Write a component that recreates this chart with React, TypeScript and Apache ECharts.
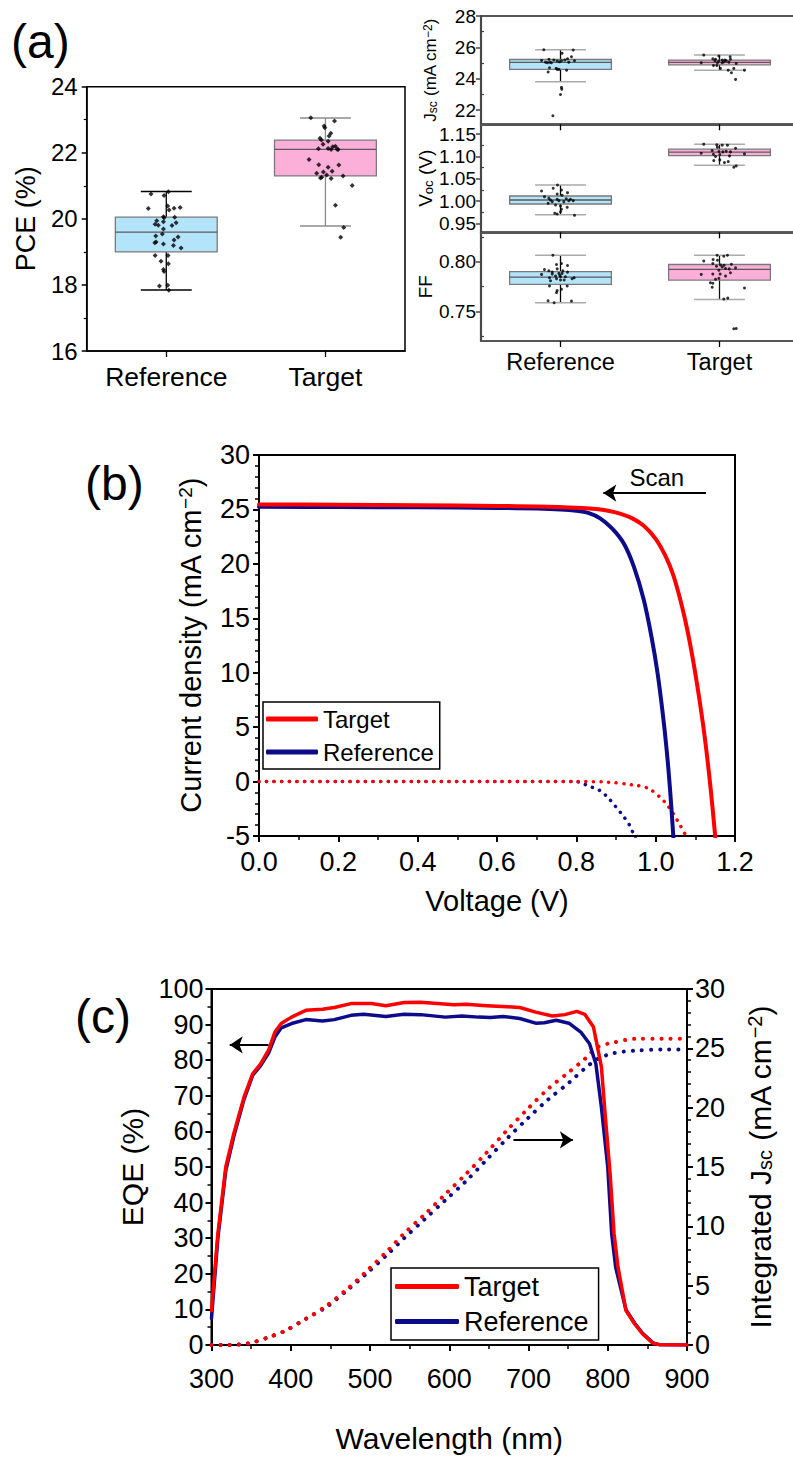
import React, { useEffect, useRef } from 'react';
import * as echarts from 'echarts';

const FONT = "'Liberation Sans', Arial, Helvetica, sans-serif";

// ---------- panel (a) ----------
const groups = ['Reference', 'Target'];
const groupCenters = [0.5, 1.5];

// box stats: [min, Q1, median, Q3, max]
const pceBox = [[17.85, 19.0, 19.6, 20.05, 20.83], [19.78, 21.3, 22.1, 22.38, 23.05]];
const jscBox = [[23.81, 24.6, 25.04, 25.23, 25.85], [24.55, 24.89, 25.04, 25.19, 25.51]];
const vocBox = [[0.9693, 0.9934, 1.0024, 1.0113, 1.036], [1.0803, 1.1019, 1.1095, 1.1163, 1.1275]];
const ffBox = [[0.7587, 0.7774, 0.7847, 0.7903, 0.8067], [0.762, 0.7817, 0.7924, 0.7974, 0.8067]];

const pceRefVals = [20.75, 20.71, 20.82, 20.31, 20.39, 20.27, 20.32, 20.34, 20.06, 20.03, 20.05, 19.94, 19.91, 19.88, 19.84, 19.81, 19.8, 19.69, 19.54, 19.48, 19.45, 19.36, 19.3, 19.28, 19.24, 19.19, 19.12, 18.89, 18.72, 18.89, 18.64, 18.47, 18.41, 17.97, 17.99, 17.84];
const pceRefJit = [-0.096, -0.014, 0.013, -0.113, 0.009, 0.018, 0.049, 0.087, -0.018, -0.014, 0.053, -0.06, -0.018, 0.062, -0.07, -0.05, 0.036, -0.018, -0.025, -0.066, 0.074, 0.049, -0.064, -0.072, -0.018, 0.045, 0.093, -0.07, -0.033, 0.011, 0.013, -0.018, -0.014, -0.043, 0.009, 0.016];
const pceTgtVals = [23.06, 22.96, 22.81, 22.76, 22.59, 22.51, 22.44, 22.39, 22.35, 22.26, 22.2, 22.18, 22.12, 22.13, 22.11, 22.1, 22.1, 21.8, 21.64, 21.63, 21.56, 21.44, 21.42, 21.38, 21.3, 21.26, 21.33, 21.24, 21.22, 21.01, 20.41, 19.74, 19.44];
const pceTgtJit = [-0.092, 0.057, -0.008, -0.004, 0.034, 0.023, -0.034, -0.025, 0.017, -0.015, 0.063, 0.046, -0.044, 0.017, 0.073, 0.036, 0.08, -0.103, -0.042, 0.084, 0.017, 0.042, -0.013, -0.055, 0.111, -0.023, 0.008, -0.031, 0.036, 0.168, 0.063, 0.115, 0.096];

const jscRefVals = [25.85, 25.83, 25.62, 25.4, 25.28, 25.17, 25.24, 25.19, 25.06, 25.13, 25.15, 25.06, 25.15, 25.02, 25.08, 24.7, 24.66, 24.6, 24.55, 24.43, 24.6, 23.45, 23.34, 23.0, 21.64, 25.02, 25.19, 25.06];
const jscRefJit = [-0.105, 0.08, 0.01, 0.069, 0.044, -0.119, -0.073, -0.042, -0.067, -0.021, 0.006, 0.052, 0.088, -0.057, -0.006, -0.069, -0.027, -0.01, 0.038, -0.078, -0.021, 0.006, 0.008, 0.0, -0.048, -0.082, 0.027, -0.094];
const jscTgtVals = [25.51, 25.45, 25.4, 25.28, 25.24, 25.19, 25.15, 25.24, 25.13, 25.08, 25.06, 25.02, 24.98, 24.85, 24.85, 24.66, 24.55, 24.66, 24.55, 24.38, 23.96, 25.02, 25.19, 25.02, 25.15];
const jscTgtJit = [-0.099, -0.004, 0.067, -0.042, -0.025, 0.017, 0.042, 0.069, -0.004, 0.027, 0.059, -0.115, 0.105, -0.038, -0.017, 0.006, 0.055, 0.09, 0.157, 0.075, 0.101, 0.017, 0.034, -0.013, -0.029];

const vocRefVals = [1.0226, 1.0286, 1.036, 1.0188, 1.0248, 1.0158, 1.0129, 1.0062, 1.0024, 1.0039, 1.0009, 1.0053, 1.0039, 1.0009, 1.0099, 0.9949, 0.9911, 0.9889, 0.9859, 0.9815, 0.9761, 0.9725, 0.9709, 0.968, 1.0009, 0.9987, 0.9987];
const vocRefJit = [-0.119, -0.046, -0.019, 0.044, 0.006, -0.021, 0.01, -0.073, -0.063, -0.021, -0.01, 0.036, 0.063, 0.08, -0.101, -0.078, -0.031, 0, 0.042, 0.006, 0, -0.036, -0.021, 0.088, 0.052, -0.052, 0.021];
const vocTgtVals = [1.1275, 1.126, 1.1253, 1.1253, 1.1208, 1.1185, 1.1132, 1.1109, 1.1102, 1.1117, 1.1102, 1.1073, 1.1057, 1.105, 1.1042, 1.1012, 1.0907, 1.0922, 1.0862, 1.0884, 1.0758, 1.0788, 1.0997];
const vocTgtJit = [-0.099, -0.017, 0.017, 0.05, -0.013, 0.101, -0.046, -0.004, 0.021, 0.042, 0.069, -0.115, 0.157, -0.038, 0.002, 0.063, -0.036, 0.002, 0.031, 0.055, 0.09, 0.105, -0.025];

const ffRefVals = [0.8067, 0.7984, 0.7974, 0.7964, 0.793, 0.7924, 0.791, 0.791, 0.7897, 0.7874, 0.7877, 0.7884, 0.7884, 0.7857, 0.785, 0.785, 0.784, 0.783, 0.784, 0.783, 0.7817, 0.781, 0.7757, 0.7757, 0.7724, 0.771, 0.769, 0.7607, 0.7587, 0.7604, 0.7897, 0.7864, 0.7817];
const ffRefJit = [-0.048, 0.006, -0.025, 0.044, -0.021, -0.101, -0.073, 0.015, 0.044, -0.119, -0.052, -0.01, 0.01, -0.031, 0, 0.031, -0.069, -0.025, 0.086, 0.073, 0, -0.063, -0.069, 0.042, 0.006, -0.021, -0.025, -0.078, -0.04, 0.069, -0.052, -0.004, 0.023];
const ffTgtVals = [0.8067, 0.8057, 0.8067, 0.801, 0.8024, 0.8017, 0.7984, 0.797, 0.7967, 0.7977, 0.794, 0.7957, 0.795, 0.793, 0.789, 0.7874, 0.7877, 0.7877, 0.7857, 0.7824, 0.7834, 0.779, 0.7784, 0.7744, 0.7737, 0.7624, 0.7634, 0.7324, 0.7327, 0.7917, 0.7934];
const ffTgtJit = [-0.015, 0.027, 0.05, -0.099, -0.04, -0.013, -0.042, 0.006, 0.029, 0.075, 0.101, -0.019, 0.017, 0.061, 0.069, -0.115, -0.042, 0.004, 0.038, -0.025, -0.004, -0.057, -0.042, -0.046, 0.157, 0.027, 0.052, 0.09, 0.105, -0.004, 0.038];

const jscLabels = [22, 24, 26, 28];
const jscMinor = [23, 25, 27];
const vocLabels = [0.95, 1.0, 1.05, 1.1, 1.15];
const vocMinor = [0.975, 1.025, 1.075, 1.125];
const ffLabels = [0.75, 0.8];
const ffMinor = [0.725, 0.775, 0.825];

// ---------- panel (b) J-V ----------
const jvTgtV = [0, 0.2, 0.4, 0.6, 0.7, 0.8, 0.85, 0.88, 0.91, 0.94, 0.97, 1.0, 1.025, 1.045, 1.065, 1.08, 1.095, 1.108, 1.12, 1.13, 1.139, 1.147, 1.155];
const jvTgtJ = [25.46, 25.43, 25.38, 25.32, 25.27, 25.16, 25.03, 24.88, 24.62, 24.2, 23.5, 22.3, 20.7, 18.9, 16.3, 13.9, 11.0, 8.1, 5.1, 2.2, -0.8, -3.8, -7];
const jvRefV = [0, 0.2, 0.4, 0.6, 0.7, 0.76, 0.8, 0.83, 0.86, 0.89, 0.92, 0.945, 0.97, 0.99, 1.005, 1.018, 1.028, 1.036, 1.043, 1.05];
const jvRefJ = [25.25, 25.22, 25.19, 25.14, 25.08, 25.0, 24.88, 24.68, 24.18, 23.25, 21.85, 19.75, 16.7, 13.2, 9.9, 6.2, 2.8, -0.6, -4.2, -8];
const darkTgtV = [0, 0.2, 0.4, 0.6, 0.8, 0.88, 0.94, 0.98, 1.01, 1.03, 1.045, 1.06, 1.075, 1.08];
const darkTgtJ = [0, 0, 0, 0, 0, -0.05, -0.3, -0.6, -1.4, -2.2, -3.0, -3.9, -4.9, -5.3];
const darkRefV = [0, 0.2, 0.4, 0.6, 0.8, 0.81, 0.838, 0.858, 0.878, 0.899, 0.919, 0.934, 0.944, 0.95];
const darkRefJ = [0, 0, 0, 0, 0, -0.1, -0.5, -0.8, -1.4, -2.3, -3.2, -4.0, -4.8, -5.3];
const scanArrow = [[1.127, 26.5], [0.868, 26.5]];
const scanText = [1.003, 27.9];

// ---------- panel (c) EQE ----------
const eqeTgtWl = [300, 308, 318, 328, 341, 352, 362, 372, 380, 388, 401, 419, 440, 455, 476, 502, 520, 543, 564, 585, 606, 621, 647, 673, 689, 709, 730, 746, 761, 771, 782, 792, 797, 803, 808, 813, 823, 834, 844, 857, 865, 900];
const eqeTgt = [9.7, 31.2, 50, 59.3, 69.6, 76.2, 79, 82.8, 87.9, 90.3, 92.1, 94.0, 94.3, 94.8, 95.9, 95.9, 95.3, 96.2, 96.3, 95.9, 95.6, 95.7, 95.3, 95.0, 94.8, 93.5, 92.4, 92.8, 93.7, 92.9, 89.3, 78.1, 64, 48, 31.2, 21.8, 9.7, 5.9, 3.1, 0.5, 0.1, 0];
const eqeRefWl = [300, 308, 318, 328, 341, 352, 362, 372, 380, 388, 401, 419, 440, 455, 476, 492, 520, 543, 564, 595, 616, 637, 652, 668, 689, 709, 720, 735, 751, 766, 777, 785, 792, 800, 805, 810, 823, 834, 844, 857, 865, 900];
const eqeRef = [7.5, 30, 49, 58.5, 69, 75.8, 78.5, 82, 86.5, 89.1, 90.3, 91.4, 91.0, 91.4, 92.6, 92.9, 92.3, 92.9, 92.8, 92.1, 92.4, 92.1, 92.0, 92.3, 91.7, 90.4, 90.5, 91.2, 90.4, 87.9, 84.6, 79, 66.8, 50, 31.2, 21.8, 9.9, 6.1, 3.3, 0.6, 0.1, 0];
const intWl = [300, 321, 347, 372, 393, 419, 445, 471, 497, 523, 543, 569, 595, 621, 647, 673, 699, 725, 751, 771, 787, 808, 834, 870, 900];
const intTgt = [0, 0, 0.14, 0.65, 1.2, 2.2, 3.3, 4.7, 6.3, 8.0, 9.4, 11.0, 12.7, 14.4, 16.2, 18.1, 19.9, 21.6, 23.0, 24.1, 25.1, 25.5, 25.8, 25.8, 25.8];
const intRef = [0, 0, 0.14, 0.65, 1.2, 2.2, 3.2, 4.6, 6.1, 7.7, 9.0, 10.6, 12.2, 13.8, 15.6, 17.4, 19.1, 20.7, 22.1, 23.3, 24.1, 24.6, 24.8, 24.9, 24.9];
const eqeLeftArrow = [[372, 84.3], [323, 84.3]];
const eqeRightArrow = [[681, 57.6], [756, 57.6]];

// ---------- styles ----------
const RED = '#ff0000';
const NAVY = '#0c0c8a';
const boxFills = ['#b3e4fa', '#fcb0d9'];
const BOX_HALF = 0.32;
const CAP_HALF = 0.16;

const zip = (xs: number[], ys: number[]) => xs.map((x, i) => [x, ys[i]]);
const jitter = (c: number, offs: number[], vals: number[]) => vals.map((v, i) => [c + offs[i], v]);
const boxData = (stats: number[][]) => stats.map((s, i) => [groupCenters[i], ...s]);

function boxRender(stems: string[], caps: string[]) {
  return (params: any, api: any) => {
    const i = params.dataIndex;
    const xc = api.value(0);
    const lo = api.value(1), q1 = api.value(2), med = api.value(3), q3 = api.value(4), hi = api.value(5);
    const tl = api.coord([xc - BOX_HALF, q3]);
    const br = api.coord([xc + BOX_HALF, q1]);
    const mL = api.coord([xc - BOX_HALF, med]);
    const mR = api.coord([xc + BOX_HALF, med]);
    const top = api.coord([xc, hi]);
    const bot = api.coord([xc, lo]);
    const hL = api.coord([xc - CAP_HALF, hi]);
    const hR = api.coord([xc + CAP_HALF, hi]);
    const lL = api.coord([xc - CAP_HALF, lo]);
    const lR = api.coord([xc + CAP_HALF, lo]);
    return {
      type: 'group',
      children: [
        { type: 'line', shape: { x1: top[0], y1: top[1], x2: top[0], y2: bot[1] }, style: { stroke: stems[i], lineWidth: 1.3 } },
        { type: 'line', shape: { x1: hL[0], y1: hL[1], x2: hR[0], y2: hR[1] }, style: { stroke: caps[i], lineWidth: 1.5 } },
        { type: 'line', shape: { x1: lL[0], y1: lL[1], x2: lR[0], y2: lR[1] }, style: { stroke: caps[i], lineWidth: 1.5 } },
        { type: 'rect', shape: { x: tl[0], y: tl[1], width: br[0] - tl[0], height: br[1] - tl[1] }, style: { fill: boxFills[i], stroke: '#7a7a7a', lineWidth: 1.3 } },
        { type: 'line', shape: { x1: mL[0], y1: mL[1], x2: mR[0], y2: mR[1] }, style: { stroke: '#5a5a5a', lineWidth: 1.3 } },
      ],
    };
  };
}

const catFmt = (v: number) => groups[Math.round(v - 0.5)] || '';

function baseAxis(color: string, lw: number, fontSize: number) {
  return {
    axisLine: { show: true, onZero: false, lineStyle: { color, width: lw } },
    axisTick: { show: true, inside: false, length: 5, lineStyle: { color, width: lw } },
    splitLine: { show: false },
    axisLabel: { color: '#000', fontFamily: FONT, fontSize, margin: 8 },
    nameTextStyle: { color: '#000', fontFamily: FONT },
  };
}

const panelLabels = (extra: any[]) => [
  { id: 'la', type: 'text', left: 11, top: 17, style: { text: '(a)', fontSize: 48, fontFamily: FONT, fill: '#000' } },
  { id: 'lb', type: 'text', left: 85, top: 459, style: { text: '(b)', fontSize: 48, fontFamily: FONT, fill: '#000' } },
  { id: 'lc', type: 'text', left: 75, top: 992, style: { text: '(c)', fontSize: 48, fontFamily: FONT, fill: '#000' } },
  ...extra,
];

function buildOption() {
  const leftStems = ['#000', '#8c8c8c'];
  const rightStems = ['#000', '#111'];
  const rightCaps = ['#aaaaaa', '#aaaaaa'];
  const gridBase = { show: true, backgroundColor: 'transparent', outerBoundsMode: 'none', containLabel: false };

  const grid = [
    { ...gridBase, left: 86.7, top: 86.7, width: 318.3, height: 264.3, borderColor: '#000', borderWidth: 1.5 },
    { ...gridBase, left: 481, top: 16, width: 318, height: 108.3, borderColor: '#555', borderWidth: 2.2 },
    { ...gridBase, left: 481, top: 124.3, width: 318, height: 108, borderColor: '#555', borderWidth: 2.2 },
    { ...gridBase, left: 481, top: 232.3, width: 318, height: 108.7, borderColor: '#555', borderWidth: 2.2 },
    { ...gridBase, left: 259, top: 455, width: 476, height: 381, borderColor: '#000', borderWidth: 2 },
    { ...gridBase, left: 211.5, top: 989, width: 475.5, height: 356, borderColor: '#000', borderWidth: 2 },
  ];

  const catX = (gi: number, showLabel: boolean, margin: number, color: string, lw: number, fontSize: number) => {
    const b = baseAxis(color, lw, fontSize);
    return {
      ...b, gridIndex: gi, type: 'value', min: 0, max: 2,
      axisTick: { ...b.axisTick, customValues: groupCenters, length: 6, lineStyle: { color: '#000', width: 1.3 } },
      axisLabel: { ...b.axisLabel, show: showLabel, customValues: groupCenters, formatter: catFmt, margin },
    };
  };

  const supRich = (big: number, small: number) => ({
    sup: { fontSize: small, verticalAlign: 'top', fontFamily: FONT, color: '#000' },
    sub: { fontSize: small, verticalAlign: 'bottom', fontFamily: FONT, color: '#000' },
    n: { fontSize: big, fontFamily: FONT, color: '#000' },
  });

  const rightY = (gi: number, min: number, max: number, labels: number[], name: string, nameSize: number, digits: number) => {
    const b = baseAxis('#444', 1.5, 19);
    return {
      ...b, gridIndex: gi, type: 'value', min, max,
      axisTick: { ...b.axisTick, customValues: labels, length: 5 },
      axisLabel: { ...b.axisLabel, customValues: labels, margin: 5, formatter: (v: number) => v.toFixed(digits) },
      name, nameLocation: 'middle', nameGap: 42, nameRotate: 90,
      nameTextStyle: { color: '#000', fontFamily: FONT, fontSize: nameSize, rich: supRich(nameSize, Math.round(nameSize * 0.7)) },
    };
  };
  const minorY = (gi: number, min: number, max: number, minors: number[]) => ({
    gridIndex: gi, type: 'value', min, max,
    axisLine: { show: false }, splitLine: { show: false }, axisLabel: { show: false },
    axisTick: { show: true, inside: false, length: 3, customValues: minors, lineStyle: { color: '#444', width: 1.2 } },
  });

  const bX = baseAxis('#000', 2, 27);
  const cX = baseAxis('#000', 2, 27);

  const xAxis = [
    catX(0, true, 12, '#000', 1.5, 26.5),
    catX(1, false, 8, '#555', 2.2, 23.5),
    catX(2, false, 8, '#555', 2.2, 23.5),
    catX(3, true, 9, '#555', 2.2, 23.5),
    {
      ...bX, gridIndex: 4, type: 'value', min: 0, max: 1.2, interval: 0.2,
      axisTick: { ...bX.axisTick, length: 6 },
      minorTick: { show: true, splitNumber: 2, length: 4, lineStyle: { color: '#000', width: 1.5 } },
      axisLabel: { ...bX.axisLabel, margin: 12, formatter: (v: number) => v.toFixed(1) },
      name: 'Voltage (V)', nameLocation: 'middle', nameGap: 50,
      nameTextStyle: { color: '#000', fontFamily: FONT, fontSize: 29 },
    },
    {
      ...cX, gridIndex: 5, type: 'value', min: 300, max: 900, interval: 100,
      axisTick: { ...cX.axisTick, length: 6 },
      minorTick: { show: true, splitNumber: 2, length: 4, lineStyle: { color: '#000', width: 1.5 } },
      axisLabel: { ...cX.axisLabel, margin: 20 },
      name: 'Wavelength (nm)', nameLocation: 'middle', nameGap: 78,
      nameTextStyle: { color: '#000', fontFamily: FONT, fontSize: 30 },
    },
  ];

  const aY = baseAxis('#000', 1.5, 24);
  const bY = baseAxis('#000', 2, 27);
  const cY = baseAxis('#000', 2, 27);

  const yAxis = [
    {
      ...aY, gridIndex: 0, type: 'value', min: 16, max: 24, interval: 2,
      minorTick: { show: true, splitNumber: 2, length: 3, lineStyle: { color: '#000', width: 1.2 } },
      axisLabel: { ...aY.axisLabel, margin: 9 },
      name: 'PCE (%)', nameLocation: 'middle', nameGap: 47, nameRotate: 90,
      nameTextStyle: { color: '#000', fontFamily: FONT, fontSize: 27 },
    },
    rightY(1, 21.1, 28, jscLabels, 'J{sub|sc}{n| (mA cm}{sup|\u22122}{n|)}', 17, 0),
    minorY(1, 21.1, 28, jscMinor),
    rightY(2, 0.93, 1.172, vocLabels, 'V{sub|oc}{n| (V)}', 19, 2),
    minorY(2, 0.93, 1.172, vocMinor),
    rightY(3, 0.72, 0.83, ffLabels, 'FF', 19, 2),
    minorY(3, 0.72, 0.83, ffMinor),
    {
      ...bY, gridIndex: 4, type: 'value', min: -5, max: 30, interval: 5,
      axisTick: { ...bY.axisTick, length: 6 },
      minorTick: { show: true, splitNumber: 5, length: 4, lineStyle: { color: '#000', width: 1.5 } },
      axisLabel: { ...bY.axisLabel, margin: 9 },
      name: '{n|Current density (mA cm}{sup|\u22122}{n|)}', nameLocation: 'middle', nameGap: 54, nameRotate: 90,
      nameTextStyle: { color: '#000', fontFamily: FONT, fontSize: 29, rich: supRich(29, 19) },
    },
    {
      ...cY, gridIndex: 5, type: 'value', min: 0, max: 100, interval: 10,
      axisTick: { ...cY.axisTick, length: 6 },
      minorTick: { show: true, splitNumber: 2, length: 4, lineStyle: { color: '#000', width: 1.5 } },
      axisLabel: { ...cY.axisLabel, margin: 8 },
      name: 'EQE (%)', nameLocation: 'middle', nameGap: 43, nameRotate: 90,
      nameTextStyle: { color: '#000', fontFamily: FONT, fontSize: 30 },
    },
    {
      ...cY, gridIndex: 5, type: 'value', min: 0, max: 30, interval: 5, position: 'right',
      axisTick: { ...cY.axisTick, length: 6 },
      minorTick: { show: true, splitNumber: 5, length: 4, lineStyle: { color: '#000', width: 1.5 } },
      axisLabel: { ...cY.axisLabel, margin: 8 },
      name: '{n|Integrated J}{sub|sc}{n| (mA cm}{sup|\u22122}{n|)}', nameLocation: 'middle', nameGap: 58, nameRotate: 90,
      nameTextStyle: { color: '#000', fontFamily: FONT, fontSize: 30, rich: supRich(30, 20) },
    },
  ];

  const boxSeries = (xi: number, yi: number, stats: number[][], stems: string[], caps: string[]) => ({
    type: 'custom', xAxisIndex: xi, yAxisIndex: yi, renderItem: boxRender(stems, caps),
    data: boxData(stats), encode: { x: 0, y: [1, 2, 3, 4, 5] }, z: 2, silent: true, clip: false,
  });
  const dots = (xi: number, yi: number, data: number[][], symbol: string, size: number) => ({
    type: 'scatter', xAxisIndex: xi, yAxisIndex: yi, data, symbol, symbolSize: size,
    itemStyle: { color: '#000' }, z: 4, silent: true,
  });
  const solid = (name: string, xi: number, yi: number, data: number[][], color: string, width: number, smooth: number | boolean, extra: any = {}) => ({
    name, type: 'line', xAxisIndex: xi, yAxisIndex: yi, data, showSymbol: false, symbol: 'none',
    smooth, color, lineStyle: { color, width, cap: 'round', join: 'round' }, z: 3, silent: true, ...extra,
  });
  const dotted = (name: string, xi: number, yi: number, data: number[][], color: string, width: number, gap: number) => ({
    name, type: 'line', xAxisIndex: xi, yAxisIndex: yi, data, showSymbol: false, symbol: 'none',
    smooth: 0.3, color, lineStyle: { color, width, type: [0.1, gap], cap: 'round' }, z: 3, silent: true,
  });
  const arrowData = (pts: number[][]) => [{ coord: pts[0] }, { coord: pts[1] }];
  const arrowLine = (list: number[][][]) => ({
    silent: true, symbol: ['none', 'arrow'], symbolSize: 13,
    lineStyle: { color: '#000', width: 2, type: 'solid' }, label: { show: false },
    emphasis: { disabled: true },
    data: list.map(arrowData),
  });

  const series: any[] = [
    boxSeries(0, 0, pceBox, leftStems, leftStems),
    dots(0, 0, jitter(0.5, pceRefJit, pceRefVals), 'diamond', 5),
    dots(0, 0, jitter(1.5, pceTgtJit, pceTgtVals), 'diamond', 5),
    boxSeries(1, 1, jscBox, rightStems, rightCaps),
    dots(1, 1, jitter(0.5, jscRefJit, jscRefVals), 'circle', 3),
    dots(1, 1, jitter(1.5, jscTgtJit, jscTgtVals), 'circle', 3),
    boxSeries(2, 3, vocBox, rightStems, rightCaps),
    dots(2, 3, jitter(0.5, vocRefJit, vocRefVals), 'circle', 3),
    dots(2, 3, jitter(1.5, vocTgtJit, vocTgtVals), 'circle', 3),
    boxSeries(3, 5, ffBox, rightStems, rightCaps),
    dots(3, 5, jitter(0.5, ffRefJit, ffRefVals), 'circle', 3),
    dots(3, 5, jitter(1.5, ffTgtJit, ffTgtVals), 'circle', 3),

    dotted('Reference dark', 4, 7, zip(darkRefV, darkRefJ), NAVY, 3.5, 7.5),
    dotted('Target dark', 4, 7, zip(darkTgtV, darkTgtJ), RED, 3.5, 7.5),
    solid('Reference', 4, 7, zip(jvRefV, jvRefJ), NAVY, 4, 0.3),
    solid('Target', 4, 7, zip(jvTgtV, jvTgtJ), RED, 4, 0.3, { markLine: arrowLine([scanArrow]) }),

    dotted('Reference int', 5, 9, zip(intWl, intRef), NAVY, 4, 9),
    dotted('Target int', 5, 9, zip(intWl, intTgt), RED, 4, 9),
    solid('Reference', 5, 8, zip(eqeRefWl, eqeRef), NAVY, 3.5, false),
    solid('Target', 5, 8, zip(eqeTgtWl, eqeTgt), RED, 3.5, false, { markLine: arrowLine([eqeLeftArrow, eqeRightArrow]) }),
  ];

  const legendBase = {
    orient: 'vertical', icon: 'roundRect', selectedMode: false,
    borderColor: '#000', borderWidth: 1.5, borderRadius: 0, backgroundColor: '#fff',
    data: ['Target', 'Reference'],
  };

  return {
    animation: false,
    backgroundColor: '#fff',
    textStyle: { fontFamily: FONT },
    grid,
    xAxis,
    yAxis,
    series,
    legend: [
      { ...legendBase, left: 263, top: 702, itemWidth: 52, itemHeight: 5, itemGap: 9, padding: [5, 6, 5, 3], textStyle: { fontSize: 24, fontFamily: FONT, color: '#000' } },
      { ...legendBase, left: 391, top: 1268, itemWidth: 64, itemHeight: 5, itemGap: 8, padding: [5, 10, 5, 4], textStyle: { fontSize: 27, fontFamily: FONT, color: '#000' } },
    ],
    graphic: panelLabels([]),
  };
}

export default function App() {
  const ref = useRef<HTMLDivElement>(null);
  useEffect(() => {
    if (!ref.current) return;
    const chart = echarts.init(ref.current, null, { renderer: 'svg' });
    chart.setOption(buildOption() as any);
    const p = chart.convertToPixel({ xAxisIndex: 4, yAxisIndex: 7 } as any, scanText) as number[];
    if (p && isFinite(p[0])) {
      chart.setOption({
        graphic: panelLabels([
          { id: 'scan', type: 'text', x: p[0], y: p[1], style: { text: 'Scan', fontSize: 24, fontFamily: FONT, fill: '#000', align: 'center', verticalAlign: 'middle' } },
        ]),
      } as any);
    }
    return () => chart.dispose();
  }, []);
  return <div ref={ref} style={{ position: 'absolute', left: 0, top: 0, width: 793, height: 1458, background: '#fff' }} />;
}
